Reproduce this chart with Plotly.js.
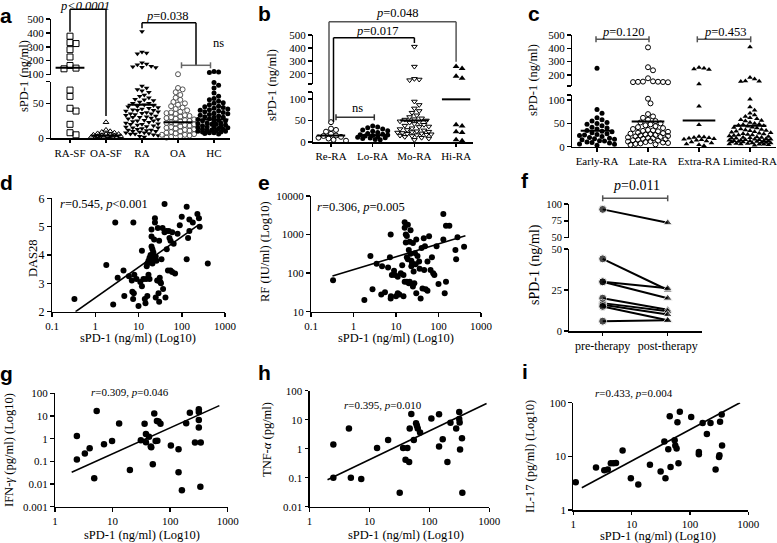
<!DOCTYPE html>
<html><head><meta charset="utf-8">
<script src="https://cdn.plot.ly/plotly-3.0.1.min.js"></script>
<style>html,body{margin:0;padding:0;background:#fff;}#chart{width:777px;height:543px;}</style>
</head><body><div id="chart"></div>
<script>
// ================= DATA =================
// Panel a
const catsA = ['RA-SF','OA-SF','RA','OA','HC'];
const aRASF = [376,330,323,279,226,165,146,141,69,60,43,39,20,8,5];
const aOASF = [23,12,10,9,8,7,6,6,5,5,4,4,3,3,3,2,2,2,1,1,1,0.5];
const aRA = [410,263,255,250,185,175,170,160,155,152,150,75,72,70,68,66,62,60,58,56,55,54,52,50,50,48,47,46,45,44,43,42,41,40,40,39,38,37,36,35,35,34,33,32,31,30,30,29,28,27,26,25,25,24,23,22,21,20,20,19,18,17,16,15,15,14,13,12,12,11,10,10,9,8,8,7,6,6,5,4,3,2];
const aOA = [102,72,70,66,62,58,55,52,50,48,46,44,42,40,38,37,36,35,33,32,31,30,29,28,27,26,25,24,23,22,21,20,19,18,17,16,15,14,13,12,11,10,9,8,7,6,5,5,4,3,2,1];
const aHC = [121,118,115,80,76,72,65,60,57,55,53,51,50,48,46,45,44,43,42,41,40,39,38,37,36,35,34,33,32,31,30,30,29,28,27,26,25,25,24,23,22,22,21,20,20,19,18,18,17,16,16,15,15,14,13,13,12,12,11,11,10,10,9,9,8,8,7,7,6];
const aMeans = [148,4,48,23,27];
// Panel b
const catsB = ['Re-RA','Lo-RA','Mo-RA','Hi-RA'];
const bReRA = [46,31,28,24,19,15,14,12,10,8,5,3];
const bLoRA = [37,35,33,30,28,26,25,22,20,18,17,16,15,14,12,11,10,9,8,6,5];
const bMoRA = [410,255,160,155,150,94,86,78,72,68,62,58,55,53,52,50,48,46,45,42,40,38,36,35,32,30,28,27,25,24,23,22,21,20,19,18,17,16,15,14,12,10,8,5];
const bHiRA = [255,240,180,165,40,37,24,22,5,3];
const bMeans = [15,16,50,99];
// Panel c
const catsC = ['Early-RA','Late-RA','Extra-RA','Limited-RA'];
const cEarly = [250,80,72,62,58,55,52,50,48,45,42,40,38,35,33,32,30,28,26,25,24,22,20,18,17,16,15,13,12,10,9,8,6,5,3];
const cLate = [407,258,235,175,152,150,149,148,147,146,145,103,93,70,65,62,58,55,52,50,48,46,44,42,40,38,36,35,34,33,32,30,29,28,27,26,25,24,23,22,21,20,19,18,17,16,15,14,13,12,11,10,9,8,7,6,5,4];
const cExtra = [255,250,245,240,132,87,47,22,21,20,19,18,17,16,15,14,12,10,8,6,4,2];
const cLimited = [410,180,170,155,152,150,102,85,78,72,68,65,62,60,58,56,55,52,50,48,47,46,45,44,42,41,40,38,37,36,35,34,33,32,31,30,29,28,27,26,25,25,24,23,22,21,20,20,19,18,18,17,16,16,15,15,14,14,13,13,12,12,11,11,10,10,9,9,8,8,7,7,6,6,5,5,4,3];
const cMeans = [34,54,56,45];
// Panel d
const dX = [0.33,1.8,2.6,2.9,3.3,4.5,4.7,6,7,7.2,7.5,7.6,7.8,8,9,10,11,12,12,13,14,14.5,15,15.5,16,16,17,17,18,18,19,19,20,20,20,21,21,22,22,23,24,24,24,25,25,26,27,28,29,29,30,30,31,32,33,34,36,37,40,40,42,44,45,48,50,52,55,55,60,60,65,70,80,90,100,130,130,140,150,150,180,230,250,260,400];
const dY = [2.45,3.65,2.25,5.15,3.2,3.45,2.55,3.25,3.1,2.7,2.45,5.15,2.65,3.3,3.15,2.2,3.05,4.15,2.9,3.15,2.45,2.3,3.15,3.6,2.55,3.7,3.8,3.3,3.9,3.15,4.0,3.85,4.65,4.9,4.3,4.2,3.7,4.1,3.95,4.55,5.3,5.15,3.85,2.5,3.95,3.8,3.1,4.95,3.1,2.65,2.35,4.5,3.2,3.05,3.0,3.85,4.95,2.8,4.8,5.8,2.5,4.85,4.2,3.45,4.85,4.6,4.5,3.45,4.8,3.4,4.4,3.35,4.75,5.05,5.35,3.85,5.7,4.6,5.25,4.85,5.15,5.45,5.3,5.0,3.7];
const fitDX = [0.35,250], fitDY = [2.0,5.07];
// Panel e
const eX = [0.33,1.8,2.5,2.8,3.5,4.5,4.7,5.5,6.5,7.2,7.5,7.5,7.6,8,9,9.5,10,11,11,12,13,14,15,15,16,16,16,17,17,18,18,18,19,19,20,20,21,21,22,22,23,23,24,25,25,26,27,28,29,30,30,32,35,36,38,40,42,45,46,48,50,55,55,60,65,70,75,80,90,100,130,130,140,150,150,180,250,260,280,400];
const eY = [65,20,280,38,175,28,150,32,140,260,1000,22,25,90,115,90,25,30,80,28,100,160,25,90,2100,60,1500,620,1000,60,260,920,230,1800,400,55,60,650,320,1300,210,150,180,45,600,110,55,330,170,750,30,280,200,130,22,450,40,800,120,500,38,35,200,900,120,260,100,90,500,52,3400,750,30,1700,60,1700,400,230,850,480];
const fitEX = [0.32,430], fitEY = [84,930];
// Panel f
const catsF = ['pre-therapy','post-therapy'];
const fPre = [92,44,30,30,20,17,16,15,6];
const fPost = [72,25,26,20,13,12,10,6.5,6.5];
// Panel g
const gX = [2.4,2.4,3.3,4,4.8,5.3,7.1,9.8,13,20,31,36,38,38,43,46,47,50,53,56,59,63,68,60,103,140,140,160,190,220,270,315,315,315,315,340,335];
const gY = [1.3,0.12,0.22,0.38,0.018,16.6,0.56,0.79,4.7,0.041,0.85,4.6,0.7,1.6,1.2,0.45,0.42,0.075,13,0.78,6,5.7,4.6,0.8,0.5,0.34,0.033,0.0053,4.8,14,0.68,20,15,6.6,3.1,0.68,0.0075];
const fitGX = [1.95,716], fitGY = [0.033,28.6];
// Panel h
const hX = [2.5,2.5,4.55,4.9,7.3,13.4,20.5,32,36.5,40,43,46,47,50,55,60,62,64,70,108,145,145,167,200,225,280,315,315,320,325,350,355];
const hY = [1.4,0.1,5,0.1,0.09,1.05,2,0.03,1.05,0.42,1.05,0.35,5,15.7,2,7.5,6.2,5,3.6,11,15.5,1.2,2.1,0.35,7.8,5,18.5,10.5,8,0.93,2.3,0.03];
const fitHX = [2.0,900], fitHY = [0.085,36];
// Panel i
const iX = [1.1,2.45,3.4,3.9,4.4,4.9,5.4,7,9.7,13,20.6,31.4,36.4,38,42.5,45,46.5,54.6,56,59,61,63.5,67,105,142,142,165,195,225,275,315,320,328,350,355];
const iY = [3.3,6.2,5.5,5.7,7.4,7.4,7.5,12.8,3.9,3,7,5.2,19,3.9,13.5,56,6.3,20,16,14,43,7.4,68,54,12,11,42,26,42,5.7,9.7,10.5,44,60,16];
const fitIX = [1.4,720], fitIY = [2.6,100];

// ================= LAYOUT HELPERS =================
const W = 777, H = 543;
const SERIF = 'Liberation Serif, Times New Roman, serif';
const SANS = 'Liberation Sans, Arial, sans-serif';
const TF = {family:SERIF,size:11,color:'#000'};
function baseAx(){return {showline:true,linecolor:'#000',linewidth:1.5,ticks:'outside',ticklen:3.5,tickwidth:1.5,tickcolor:'#000',showgrid:false,zeroline:false,tickfont:TF,fixedrange:true};}
function xAx(p0,p1,range,extra){return Object.assign(baseAx(),{domain:[p0/W,p1/W],range:range},extra);}
function yAx(pb,pt,range,extra){return Object.assign(baseAx(),{domain:[1-pb/H,1-pt/H],range:range},extra);}
const layout = {width:W,height:H,margin:{l:0,r:0,t:0,b:0,pad:0},paper_bgcolor:'#fff',plot_bgcolor:'rgba(0,0,0,0)',showlegend:false,font:{family:SERIF,color:'#000',size:12},annotations:[],shapes:[]};
const traces = [];
function ann(text,x,y,size,extra){layout.annotations.push(Object.assign({text:text,xref:'paper',yref:'paper',x:x/W,y:1-y/H,xanchor:'center',yanchor:'middle',showarrow:false,font:{family:SERIF,size:size,color:'#000'}},extra||{}));}
function seg(x0,y0,x1,y1,color,w){layout.shapes.push({type:'line',xref:'paper',yref:'paper',x0:x0/W,y0:1-y0/H,x1:x1/W,y1:1-y1/H,line:{color:color||'#000',width:w||1.5}});}
function capBar(x0,x1,y,color){seg(x0,y,x1,y,color,1.5);seg(x0,y-3,x0,y+3,color,1.5);seg(x1,y-3,x1,y+3,color,1.5);}
function letter(t,x,y){ann('<b>'+t+'</b>',x,y,21,{font:{family:SANS,size:21,color:'#000'}});}

function segMap(sg){return v=>{const s=v<=sg.lo.r[1]?sg.lo:sg.hi;return s.p[0]-(v-s.r[0])/(s.r[1]-s.r[0])*(s.p[0]-s.p[1]);};}
function swarm(vals,map,diam,maxHalf){
  const order=vals.map((v,i)=>i).sort((a,b)=>vals[b]-vals[a]);
  const placed=[],off=new Array(vals.length).fill(0),step=diam/2;
  for(const i of order){
    const py=map(vals[i]);let chosen=null,best=-1,bestC=0;
    for(let k=0;k<400;k++){
      const n=Math.ceil(k/2),c=(k%2===1?1:-1)*n*step;
      if(Math.abs(c)>maxHalf)break;
      let md=1e9;for(const p of placed){const dx=c-p[0],dy=py-p[1];md=Math.min(md,dx*dx+dy*dy);}
      if(md>=diam*diam*0.9){chosen=c;break;}
      if(md>best){best=md;bestC=c;}
    }
    if(chosen===null)chosen=bestC;
    off[i]=chosen;placed.push([chosen,py]);
  }
  return off;
}
function addDots(vals,ci,sg,catPx,xa,yLo,yHi,marker,diam,maxHalf){
  const map=segMap(sg),offs=swarm(vals,map,diam,maxHalf);
  const lo={x:[],y:[]},hi={x:[],y:[]};
  vals.forEach((v,i)=>{const t=v<=sg.lo.r[1]?lo:hi;t.x.push(ci+offs[i]/catPx);t.y.push(v);});
  [[lo,yLo],[hi,yHi]].forEach(([t,ya])=>{if(t.x.length)traces.push({type:'scatter',mode:'markers',x:t.x,y:t.y,xaxis:xa,yaxis:ya,marker:marker,cliponaxis:false,hoverinfo:'skip'});});
}
function addMeans(means,sg,half,xa,yLo,yHi){
  means.forEach((m,ci)=>traces.push({type:'scatter',mode:'lines',x:[ci-half,ci+half],y:[m,m],xaxis:xa,yaxis:m<=sg.lo.r[1]?yLo:yHi,line:{color:'#000',width:2},cliponaxis:false,hoverinfo:'skip'}));
}
function mk(sym,size,color,open){return open?{symbol:sym,size:size,color:color,line:{color:color,width:1}}:{symbol:sym,size:size,color:color,line:{width:0}};}

// ================= PANEL A =================
const sgA={lo:{r:[0,81],p:[138.3,81.7]},hi:{r:[100,500],p:[74.5,19]}};
const catPxA=36, cat0A=70;
layout.xaxis=xAx(51,230,[(51-cat0A)/catPxA,(230-cat0A)/catPxA],{anchor:'y',tickmode:'array',tickvals:[0,1,2,3,4],ticktext:catsA});
layout.yaxis=yAx(138.3,81.7,[0,81],{anchor:'x',tickmode:'array',tickvals:[0,50,81],ticktext:['0','50','']});
layout.yaxis2=yAx(74.5,19,[100,500],{anchor:'x',tickmode:'array',tickvals:[100,200,300,400,500],ticktext:['100','200','300','400','500']});
addDots(aRASF,0,sgA,catPxA,'x','y','y2',mk('square-open',6,'#000',true),6,11);
addDots(aOASF,1,sgA,catPxA,'x','y','y2',mk('triangle-up-open',5,'#000',true),4.2,15);
addDots(aRA,2,sgA,catPxA,'x','y','y2',mk('triangle-down',5,'#000',false),4.6,17);
addDots(aOA,3,sgA,catPxA,'x','y','y2',mk('circle-open',5,'#555',true),4.6,17);
addDots(aHC,4,sgA,catPxA,'x','y','y2',mk('circle',5,'#000',false),4.6,17);
addMeans(aMeans,sgA,0.4,'x','y','y2');
const cpA=i=>cat0A+i*catPxA;
seg(cpA(0),31.7,cpA(0),9.3);seg(cpA(0),9.3,cpA(1),9.3);seg(cpA(1),9.3,cpA(1),116);
ann('<i>p&lt;0.0001</i>',85,5.5,12.5);
seg(cpA(2),28.3,cpA(2),22.7);seg(cpA(2),22.7,196,22.7);seg(196,22.7,196,65.3);
ann('<i>p</i>=0.038',167,16,12.5);
capBar(181.5,210.5,65.3,'#666');
ann('ns',218,43,12.5);
ann('sPD-1 (ng/ml)',24,76,12.5,{textangle:-90});
letter('a',6,15);

// ================= PANEL B =================
const sgB={lo:{r:[0,116],p:[142,92]},hi:{r:[120,500],p:[84,35]}};
const catPxB=41.7, cat0B=331;
layout.xaxis2=xAx(313,473,[(313-cat0B)/catPxB,(473-cat0B)/catPxB],{anchor:'y3',tickmode:'array',tickvals:[0,1,2,3],ticktext:catsB});
layout.yaxis3=yAx(142,92,[0,116],{anchor:'x2',tickmode:'array',tickvals:[0,50,100,116],ticktext:['0','50','100','']});
layout.yaxis4=yAx(84,35,[120,500],{anchor:'x2',tickmode:'array',tickvals:[120,200,300,400,500],ticktext:['','200','300','400','500']});
addDots(bReRA,0,sgB,catPxB,'x2','y3','y4',mk('circle-open',5,'#000',true),5,16);
addDots(bLoRA,1,sgB,catPxB,'x2','y3','y4',mk('circle',5,'#000',false),5,16);
addDots(bMoRA,2,sgB,catPxB,'x2','y3','y4',mk('triangle-down-open',5,'#000',true),4.8,17);
addDots(bHiRA,3,sgB,catPxB,'x2','y3','y4',mk('triangle-up',6,'#000',false),6,16);
addMeans(bMeans,sgB,0.34,'x2','y3','y4');
const cpB=i=>cat0B+i*catPxB;
seg(329,122,329,21.7,'#555');seg(329,21.7,cpB(3),21.7,'#555');seg(cpB(3),21.7,cpB(3),61.7,'#555');
ann('<i>p</i>=0.048',396.7,13.3,12.5);
seg(333.5,122,333.5,37.7);seg(333.5,37.7,cpB(2),37.7);seg(cpB(2),37.7,cpB(2),43);
ann('<i>p</i>=0.017',376.7,30.7,12.5);
capBar(336,374.3,117.3,'#333');
ann('ns',357.7,108.3,12.5);
ann('sPD-1 (ng/ml)',272,85,12.5,{textangle:-90});
letter('b',264,13);

// ================= PANEL C =================
const sgC={lo:{r:[0,111],p:[146.7,95]},hi:{r:[117,500],p:[86,35]}};
const catPxC=51, cat0C=597;
layout.xaxis3=xAx(572,776,[(572-cat0C)/catPxC,(776-cat0C)/catPxC],{anchor:'y5',tickmode:'array',tickvals:[0,1,2,3],ticktext:catsC});
layout.yaxis5=yAx(146.7,95,[0,111],{anchor:'x3',tickmode:'array',tickvals:[0,50,100,111],ticktext:['0','50','100','']});
layout.yaxis6=yAx(86,35,[117,500],{anchor:'x3',tickmode:'array',tickvals:[117,200,300,400,500],ticktext:['','200','300','400','500']});
addDots(cEarly,0,sgC,catPxC,'x3','y5','y6',mk('circle',5,'#000',false),5,19);
addDots(cLate,1,sgC,catPxC,'x3','y5','y6',mk('circle-open',5,'#000',true),5,20);
addDots(cExtra,2,sgC,catPxC,'x3','y5','y6',mk('triangle-up',5,'#000',false),5,19);
addDots(cLimited,3,sgC,catPxC,'x3','y5','y6',mk('triangle-up',5,'#000',false),4.6,21);
addMeans(cMeans,sgC,0.32,'x3','y5','y6');
capBar(596,649,39.3,'#555');
ann('<i>p</i>=0.120',623.3,31.5,12.5);
capBar(697.3,750.7,39.3,'#555');
ann('<i>p</i>=0.453',725,31.5,12.5);
ann('sPD-1 (ng/ml)',533,80,12.5,{textangle:-90});
letter('c',534,13);

// ================= PANEL D =================
layout.xaxis4=xAx(52,225,[-1,3],{anchor:'y7',type:'log',tickmode:'array',tickvals:[0.1,1,10,100,1000],ticktext:['0.1','1','10','100','1000']});
layout.yaxis7=yAx(311.7,198.3,[2,6],{anchor:'x4',tickmode:'array',tickvals:[2,3,4,5,6],ticktext:['2','3','4','5','6'],tickfont:{family:SERIF,size:12,color:'#000'}});
traces.push({type:'scatter',mode:'markers',x:dX,y:dY,xaxis:'x4',yaxis:'y7',marker:{symbol:'circle',size:6,color:'#000'},cliponaxis:false,hoverinfo:'skip'});
traces.push({type:'scatter',mode:'lines',x:fitDX,y:fitDY,xaxis:'x4',yaxis:'y7',line:{color:'#000',width:1.6},cliponaxis:false,hoverinfo:'skip'});
ann('<i>r</i>=0.545, <i>p</i>&lt;0.001',58,203.5,12.5,{xanchor:'left'});
ann('DAS28',33,258,12.5,{textangle:-90});
ann('sPD-1 (ng/ml) (Log10)',138,338,12.5);
letter('d',6,182);

// ================= PANEL E =================
layout.xaxis5=xAx(311,481,[-1,3],{anchor:'y8',type:'log',tickmode:'array',tickvals:[0.1,1,10,100,1000],ticktext:['0.1','1','10','100','1000']});
layout.yaxis8=yAx(311.7,196,[1,4],{anchor:'x5',type:'log',tickmode:'array',tickvals:[10,100,1000,10000],ticktext:['10','100','1000','10000']});
traces.push({type:'scatter',mode:'markers',x:eX,y:eY,xaxis:'x5',yaxis:'y8',marker:{symbol:'circle',size:6,color:'#000'},cliponaxis:false,hoverinfo:'skip'});
traces.push({type:'scatter',mode:'lines',x:fitEX,y:fitEY,xaxis:'x5',yaxis:'y8',line:{color:'#000',width:1.6},cliponaxis:false,hoverinfo:'skip'});
ann('<i>r</i>=0.306, <i>p</i>=0.005',315,207.3,12.5,{xanchor:'left'});
ann('RF (IU/ml) (Log10)',265,252,12.5,{textangle:-90});
ann('sPD-1 (ng/ml) (Log10)',396,338,12.5);
letter('e',264,182);

// ================= PANEL F =================
const sgF={lo:{r:[0,50],p:[331,249]},hi:{r:[50,100],p:[237.5,204]}};
const catPxF=65, cat0F=602.7;
const TF2={family:SERIF,size:12,color:'#000'};
const TF3={family:SERIF,size:10.5,color:'#000'};
layout.xaxis6=xAx(569,702,[(569-cat0F)/catPxF,(702-cat0F)/catPxF],{anchor:'y9',tickmode:'array',tickvals:[0,1],ticktext:catsF,tickfont:TF2});
layout.yaxis9=yAx(331,249,[0,50],{anchor:'x6',tickmode:'array',tickvals:[0,25,50],ticktext:['0','25','50'],tickfont:TF3});
layout.yaxis10=yAx(237.5,204,[50,100],{anchor:'x6',tickmode:'array',tickvals:[50,75,100],ticktext:['50','75','100'],tickfont:TF3});
fPre.forEach((p,i)=>{
  const q=fPost[i];
  traces.push({type:'scatter',mode:'lines+markers',x:[0,1],y:[p,q],xaxis:'x6',yaxis:p>sgF.lo.r[1]?'y10':'y9',line:{color:'#000',width:2},marker:{symbol:['circle','triangle-up'],size:[8,8],color:'#000'},cliponaxis:false,hoverinfo:'skip'});
});
capBar(cat0F,cat0F+catPxF,198.3,'#555');
ann('<i>p</i>=0.011',636.7,185,14);
ann('sPD-1 (ng/ml)',535,265,14,{textangle:-90});
letter('f',525,180);

// ================= PANEL G =================
layout.xaxis7=xAx(55,227.7,[0,3],{anchor:'y11',type:'log',tickmode:'array',tickvals:[1,10,100,1000],ticktext:['1','10','100','1000']});
layout.yaxis11=yAx(506.7,393.3,[-3,2],{anchor:'x7',type:'log',tickmode:'array',tickvals:[0.001,0.01,0.1,1,10,100],ticktext:['0.001','0.01','0.1','1','10','100']});
traces.push({type:'scatter',mode:'markers',x:gX,y:gY,xaxis:'x7',yaxis:'y11',marker:{symbol:'circle',size:6.5,color:'#000'},cliponaxis:false,hoverinfo:'skip'});
traces.push({type:'scatter',mode:'lines',x:fitGX,y:fitGY,xaxis:'x7',yaxis:'y11',line:{color:'#000',width:1.6},cliponaxis:false,hoverinfo:'skip'});
ann('<i>r</i>=0.309, <i>p</i>=0.046',130,391.7,11);
ann('IFN-<i>γ</i> (pg/ml) (Log10)',9,450,12.5,{textangle:-90});
ann('sPD-1 (ng/ml) (Log10)',142,535,12.5);
letter('g',6,373);

// ================= PANEL H =================
layout.xaxis8=xAx(309.5,489.3,[0,3],{anchor:'y12',type:'log',tickmode:'array',tickvals:[1,10,100,1000],ticktext:['1','10','100','1000']});
layout.yaxis12=yAx(506.7,390.7,[-2,2],{anchor:'x8',type:'log',tickmode:'array',tickvals:[0.01,0.1,1,10,100],ticktext:['0.01','0.1','1','10','100']});
traces.push({type:'scatter',mode:'markers',x:hX,y:hY,xaxis:'x8',yaxis:'y12',marker:{symbol:'circle',size:6.5,color:'#000'},cliponaxis:false,hoverinfo:'skip'});
traces.push({type:'scatter',mode:'lines',x:fitHX,y:fitHY,xaxis:'x8',yaxis:'y12',line:{color:'#000',width:1.6},cliponaxis:false,hoverinfo:'skip'});
ann('<i>r</i>=0.395, <i>p</i>=0.010',383,405,11);
ann('TNF-<i>α</i> (pg/ml)',267,440,12.5,{textangle:-90});
ann('sPD-1 (ng/ml) (Log10)',406,535,12.5);
letter('h',264,372);

// ================= PANEL I =================
layout.xaxis9=xAx(573.3,748.3,[0,3],{anchor:'y13',type:'log',tickmode:'array',tickvals:[1,10,100,1000],ticktext:['1','10','100','1000']});
layout.yaxis13=yAx(510,402.7,[0,2],{anchor:'x9',type:'log',tickmode:'array',tickvals:[1,10,100],ticktext:['1','10','100']});
traces.push({type:'scatter',mode:'markers',x:iX,y:iY,xaxis:'x9',yaxis:'y13',marker:{symbol:'circle',size:6.5,color:'#000'},cliponaxis:false,hoverinfo:'skip'});
traces.push({type:'scatter',mode:'lines',x:fitIX,y:fitIY,xaxis:'x9',yaxis:'y13',line:{color:'#000',width:1.6},cliponaxis:false,hoverinfo:'skip'});
ann('<i>r</i>=0.433, <i>p</i>=0.004',634,393.3,11);
ann('IL-17 (pg/ml) (Log10)',530,457,12.5,{textangle:-90});
ann('sPD-1 (ng/ml) (Log10)',658,536,12.5);
letter('i',525,371);

Plotly.newPlot('chart',traces,layout,{staticPlot:true,displayModeBar:false});
</script></body></html>
